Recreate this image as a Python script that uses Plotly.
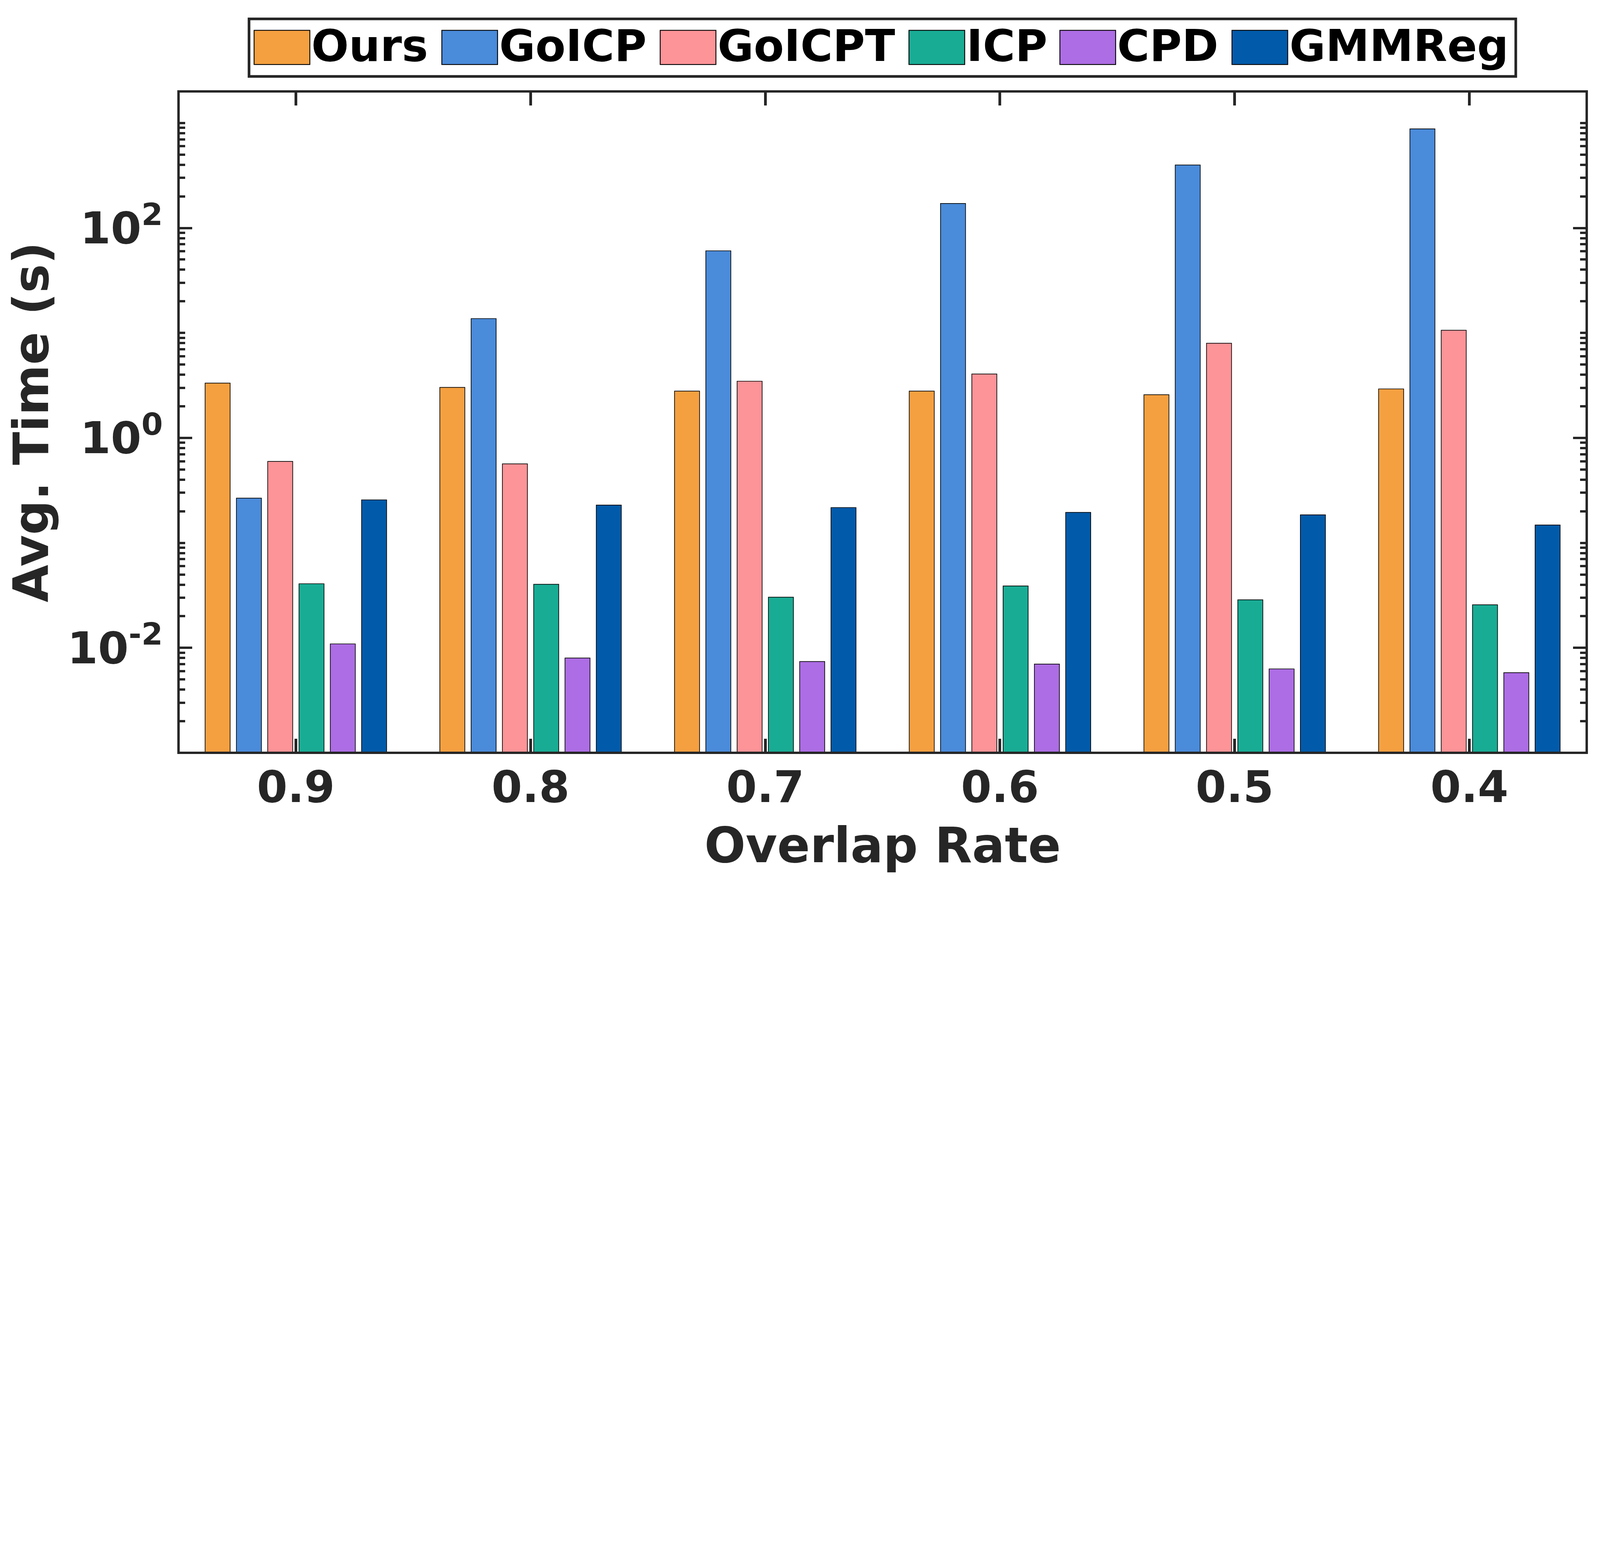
import plotly.graph_objects as go

# ---------------- data ----------------
overlap_rates = ["0.9", "0.8", "0.7", "0.6", "0.5", "0.4"]
methods = ["Ours", "GoICP", "GoICPT", "ICP", "CPD", "GMMReg"]

ours = [3.33, 3.03, 2.79, 2.79, 2.58, 2.93]
goicp = [0.267, 13.7, 60.6, 171, 398, 879]
goicpt = [0.597, 0.566, 3.47, 4.06, 7.98, 10.6]
icp = [0.0408, 0.0403, 0.0304, 0.0389, 0.0287, 0.0257]
cpd = [0.0109, 0.0080, 0.0074, 0.0070, 0.0063, 0.0058]
gmmreg = [0.257, 0.229, 0.217, 0.195, 0.185, 0.148]
series = [ours, goicp, goicpt, icp, cpd, gmmreg]

ytick_vals = [0.01, 1, 100]
ytick_text = ["10<sup>-2</sup>", "10<sup>0</sup>", "10<sup>2</sup>"]

# ---------------- style ----------------
colors = ["#F5A040", "#4A8BDA", "#FC9498", "#19AC95", "#AD6DE4", "#015BAA"]
AX = "#262626"
FONT = "DejaVu Sans"

# design space = reference pixels (7263 x 4006); the browser viewport is
# only 4096 px wide, so everything is scaled uniformly to fit it.
REF_W, REF_H = 7263, 4006
S = 4096 / REF_W


def z(v):
    return v * S


def zi(v):
    return int(round(v * S))


W, H = 4096, round(REF_H * S)
L, R, T, B = 797, 7188, 401, 3402   # plot area in design px


def px(x):
    return (x - L) / (R - L)


def py(y):
    return (B - y) / (B - T)


fig = go.Figure()
for name, vals, col in zip(methods, series, colors):
    fig.add_trace(go.Bar(
        x=overlap_rates, y=vals, name=name,
        marker=dict(color=col, line=dict(color="black", width=z(3))),
        showlegend=False,
    ))

minor_vals = []
for k in range(-3, 4):
    for m in range(1, 10):
        v = m * 10 ** k
        if v <= 2000 and v not in (0.01, 1, 100):
            minor_vals.append(v)

fig.update_layout(
    width=W, height=H,
    margin=dict(l=z(L), r=W - z(R), t=z(T), b=H - z(B), pad=0),
    paper_bgcolor="white", plot_bgcolor="white",
    barmode="group", bargap=0.2, bargroupgap=0.2,
    font=dict(family=FONT, color=AX),
    showlegend=False,
)

fig.update_xaxes(
    type="category", range=[-0.5, 5.5],
    showline=False, mirror="ticks", showgrid=False, zeroline=False,
    ticks="inside", ticklen=z(63), tickwidth=z(12), tickcolor=AX,
    tickfont=dict(family=FONT, size=z(200), color=AX, weight="bold"),
    ticklabelstandoff=zi(21),
    layer="below traces",
    title=dict(text="Overlap Rate", standoff=zi(72),
               font=dict(family=FONT, size=z(220), color=AX, weight="bold")),
)

fig.update_yaxes(
    type="log", range=[-3, 3.30103],
    showline=False, mirror="ticks", showgrid=False, zeroline=False,
    tickmode="array", tickvals=ytick_vals, ticktext=ytick_text,
    ticks="inside", ticklen=z(62), tickwidth=z(11), tickcolor=AX,
    minor=dict(tickmode="array", tickvals=minor_vals, ticks="inside",
               ticklen=z(30), tickwidth=z(11), tickcolor=AX, showgrid=False),
    tickfont=dict(family=FONT, size=z(200), color=AX, weight="bold"),
    ticklabelstandoff=zi(70),
    title=dict(text="Avg. Time (s)", standoff=zi(45),
               font=dict(family=FONT, size=z(220), color=AX, weight="bold")),
)

shapes = []
# plot frame
shapes.append(dict(type="rect", xref="paper", yref="paper", x0=0, x1=1, y0=0, y1=1,
                   line=dict(color=AX, width=z(11)), layer="above"))
# legend box
shapes.append(dict(type="rect", xref="paper", yref="paper",
                   x0=px(1117), x1=px(6866), y0=py(333), y1=py(72),
                   fillcolor="white", line=dict(color=AX, width=z(12)), layer="above"))

swatch_left = [1140, 1992, 2983, 4112, 4797, 5578]
sw_w = 253
annotations = []
for name, col, xl in zip(methods, colors, swatch_left):
    shapes.append(dict(type="rect", xref="paper", yref="paper",
                       x0=px(xl), x1=px(xl + sw_w), y0=py(279), y1=py(124),
                       fillcolor=col, line=dict(color="black", width=z(4)), layer="above"))
    annotations.append(dict(xref="paper", yref="paper", x=px(xl + sw_w + 4), y=py(193),
                            xanchor="left", yanchor="middle", showarrow=False, text=name,
                            font=dict(family=FONT, size=z(200), color="black", weight="bold")))

fig.update_layout(shapes=shapes, annotations=annotations)

fig.write_html("out.html")
